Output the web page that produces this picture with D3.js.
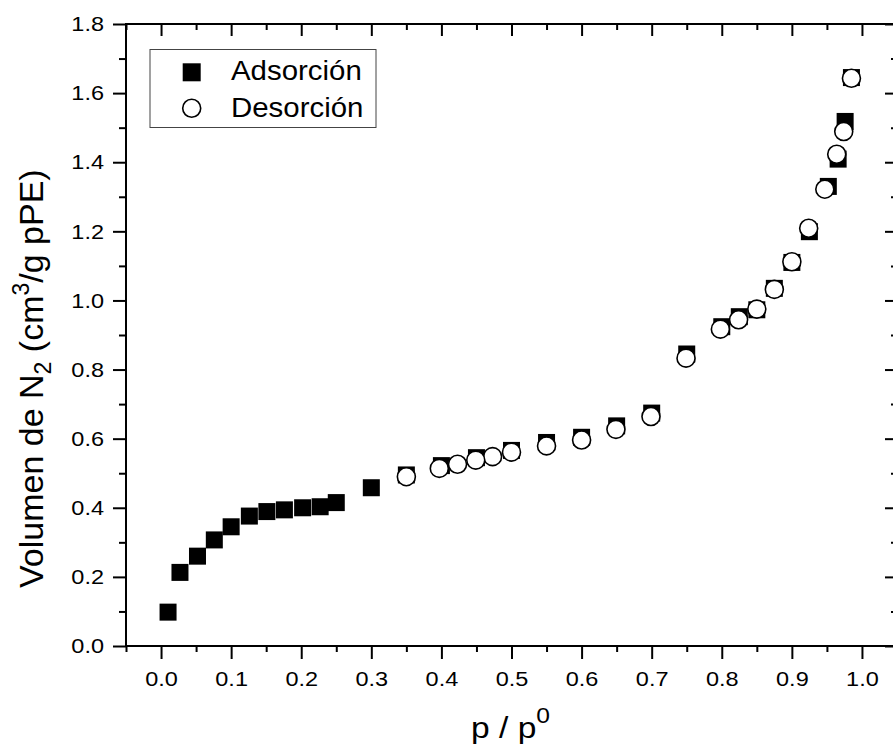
<!DOCTYPE html>
<html>
<head>
<meta charset="utf-8">
<script src="https://cdn.jsdelivr.net/npm/d3@7"></script>
<style>
  html, body { margin: 0; padding: 0; background: #fff; }
  svg { display: block; }
  text { font-family: "Liberation Sans", Arial, sans-serif; fill: #000; }
</style>
</head>
<body>
<svg id="chart" width="893" height="749"></svg>
<script>
// N2 isotherm: relative pressure and adsorbed volume
const adsP = [0.01, 0.027, 0.052, 0.076, 0.1, 0.126, 0.151, 0.176, 0.202, 0.227, 0.25, 0.3,
              0.35, 0.4, 0.45, 0.5, 0.55, 0.6, 0.65, 0.7, 0.75, 0.8, 0.825, 0.85, 0.875,
              0.9, 0.925, 0.952, 0.966, 0.976, 0.985];
const adsV = [0.098, 0.213, 0.26, 0.307, 0.345, 0.376, 0.389, 0.394, 0.4, 0.403, 0.415, 0.458,
              0.495, 0.522, 0.545, 0.566, 0.589, 0.604, 0.637, 0.674, 0.845, 0.924, 0.953, 0.973, 1.035,
              1.11, 1.199, 1.33, 1.409, 1.518, 1.645];
const desP = [0.985, 0.974, 0.964, 0.947, 0.924, 0.9, 0.875, 0.85, 0.824, 0.798, 0.749, 0.699,
              0.649, 0.6, 0.55, 0.5, 0.473, 0.449, 0.423, 0.397, 0.35];
const desV = [1.643, 1.489, 1.423, 1.322, 1.209, 1.112, 1.032, 0.975, 0.944, 0.917, 0.833, 0.664,
              0.627, 0.596, 0.579, 0.561, 0.548, 0.538, 0.526, 0.514, 0.49];

const xMajor = [0, 0.1, 0.2, 0.3, 0.4, 0.5, 0.6, 0.7, 0.8, 0.9, 1.0];
const xMinor = [-0.05, 0.05, 0.15, 0.25, 0.35, 0.45, 0.55, 0.65, 0.75, 0.85, 0.95, 1.05];
const yMajor = [0, 0.2, 0.4, 0.6, 0.8, 1.0, 1.2, 1.4, 1.6, 1.8];
const yMinor = [0.1, 0.3, 0.5, 0.7, 0.9, 1.1, 1.3, 1.5, 1.7];
const seriesNames = ["Adsorción", "Desorción"];

const svg = d3.select("#chart");
const plotL = 126, plotR = 897, plotT = 24, plotB = 646;
const sx = 1.12; // horizontal text stretch

const x = d3.scaleLinear().domain([-0.05, 1.05]).range([plotL, plotR]);
const y = d3.scaleLinear().domain([0, 1.8]).range([plotB, plotT]);
const fmt = d3.format(".1f");

function styleAxis(g) {
  g.select(".domain").remove();
  g.selectAll(".tick line").attr("stroke", "#000").attr("stroke-width", 2);
}

// bottom axis
svg.append("g").attr("transform", `translate(0,${plotB})`)
  .call(d3.axisBottom(x).tickValues(xMinor).tickSize(6).tickFormat(""))
  .call(styleAxis);
const gb = svg.append("g").attr("transform", `translate(0,${plotB})`)
  .call(d3.axisBottom(x).tickValues(xMajor).tickSize(13).tickPadding(12).tickFormat(fmt))
  .call(styleAxis);
gb.selectAll(".tick text").attr("font-size", 21).attr("transform", `scale(${sx},1)`)
  .style("font-family", '"Liberation Sans", Arial, sans-serif');

// top axis (inward ticks)
svg.append("g").attr("transform", `translate(0,${plotT})`)
  .call(d3.axisBottom(x).tickValues(xMinor).tickSize(6).tickFormat(""))
  .call(styleAxis);
svg.append("g").attr("transform", `translate(0,${plotT})`)
  .call(d3.axisBottom(x).tickValues(xMajor).tickSize(12).tickFormat(""))
  .call(styleAxis);

// left axis
svg.append("g").attr("transform", `translate(${plotL},0)`)
  .call(d3.axisLeft(y).tickValues(yMinor).tickSize(7).tickFormat(""))
  .call(styleAxis);
const gl = svg.append("g").attr("transform", `translate(${plotL},0)`)
  .call(d3.axisLeft(y).tickValues(yMajor).tickSize(13).tickPadding(9).tickFormat(fmt))
  .call(styleAxis);
gl.selectAll(".tick text").attr("font-size", 21)
  .attr("x", -22 / sx).attr("transform", `scale(${sx},1)`)
  .style("font-family", '"Liberation Sans", Arial, sans-serif');

// right axis (inward ticks)
svg.append("g").attr("transform", `translate(${plotR},0)`)
  .call(d3.axisLeft(y).tickValues(yMinor).tickSize(6).tickFormat(""))
  .call(styleAxis);
svg.append("g").attr("transform", `translate(${plotR},0)`)
  .call(d3.axisLeft(y).tickValues(yMajor).tickSize(12).tickFormat(""))
  .call(styleAxis);

// frame
svg.append("rect")
  .attr("x", plotL).attr("y", plotT)
  .attr("width", plotR - plotL).attr("height", plotB - plotT)
  .attr("fill", "none").attr("stroke", "#000").attr("stroke-width", 2);

// data
const ads = adsP.map((p, i) => ({ p, v: adsV[i] }));
const des = desP.map((p, i) => ({ p, v: desV[i] }));
const sq = 17, r = 9;

svg.append("g").selectAll("rect").data(ads).join("rect")
  .attr("x", d => x(d.p) - sq / 2).attr("y", d => y(d.v) - sq / 2)
  .attr("width", sq).attr("height", sq).attr("fill", "#000");

svg.append("g").selectAll("circle").data(des).join("circle")
  .attr("cx", d => x(d.p)).attr("cy", d => y(d.v)).attr("r", r)
  .attr("fill", "#fff").attr("stroke", "#000").attr("stroke-width", 1.6);

// legend
const lg = svg.append("g");
lg.append("rect").attr("x", 150).attr("y", 49.5).attr("width", 226).attr("height", 78)
  .attr("fill", "#fff").attr("stroke", "#444").attr("stroke-width", 1);
lg.append("rect").attr("x", 191.7 - 9).attr("y", 72.3 - 9).attr("width", 18).attr("height", 18)
  .attr("fill", "#000");
lg.append("circle").attr("cx", 191.7).attr("cy", 108.3).attr("r", 9)
  .attr("fill", "#fff").attr("stroke", "#000").attr("stroke-width", 1.6);
[80, 117].forEach((by, i) => {
  lg.append("text").attr("transform", `translate(231,${by}) scale(1.09,1)`)
    .attr("font-size", 27).text(seriesNames[i]);
});

// x title
const xt = svg.append("text").attr("transform", `translate(471,738) scale(${sx},1)`)
  .attr("font-size", 30);
xt.append("tspan").text("p / p");
xt.append("tspan").attr("font-size", 22).attr("dy", -15).text("0");

// y title
const yt = svg.append("text").attr("transform", "translate(43,588) rotate(-90)")
  .attr("font-size", 34);
yt.append("tspan").text("Volumen de N");
yt.append("tspan").attr("font-size", 23).attr("dy", 8).text("2");
yt.append("tspan").attr("dy", -8).text(" (cm");
yt.append("tspan").attr("font-size", 23).attr("dy", -14).text("3");
yt.append("tspan").attr("dy", 14).text("/g pPE)");
</script>
</body>
</html>
